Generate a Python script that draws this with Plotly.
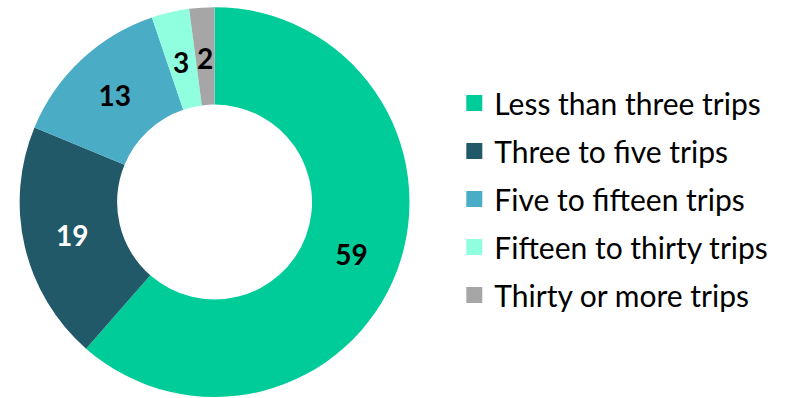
import math
import plotly.graph_objects as go

labels = ["Less than three trips", "Three to five trips", "Five to fifteen trips",
          "Fifteen to thirty trips", "Thirty or more trips"]
values = [59, 19, 13, 3, 2]
colors = ["#00CC99", "#215968", "#4BACC6", "#8FFFE0", "#A6A6A6"]
text_colors = ["black", "white", "black", "black", "black"]

FONT = "Lato"
W, H = 786, 398
DOM_X = [0.0235, 0.5225]
DOM_Y = [0.0025, 0.982]
HOLE = 0.5
SMALL = 5  # slices below this share are labelled by annotation

fig = go.Figure()
fig.add_trace(go.Pie(
    labels=labels, values=values, sort=False, direction="clockwise", rotation=0,
    hole=HOLE, marker=dict(colors=colors, line=dict(width=0)),
    texttemplate=["%{value}" if v >= SMALL else "" for v in values],
    textposition="inside", insidetextorientation="horizontal",
    insidetextfont=dict(family=FONT, size=28, color=text_colors, weight="bold"),
    showlegend=False, domain=dict(x=DOM_X, y=DOM_Y),
    hoverinfo="label+value",
))

# labels for thin slices, placed at the middle of the ring from the data
total = sum(values)
cx = (DOM_X[0] + DOM_X[1]) / 2
cy = (DOM_Y[0] + DOM_Y[1]) / 2
r_out = min((DOM_X[1] - DOM_X[0]) * W, (DOM_Y[1] - DOM_Y[0]) * H) / 2
r_mid = r_out * (1 + HOLE) / 2
cum = 0
for v, tc in zip(values, text_colors):
    mid = (cum + v / 2) / total * 2 * math.pi
    cum += v
    if v >= SMALL:
        continue
    fig.add_annotation(
        x=cx + r_mid * math.sin(mid) / W, y=cy + r_mid * math.cos(mid) / H,
        xref="paper", yref="paper", xanchor="center", yanchor="middle",
        text=f"<b>{v}</b>", showarrow=False,
        font=dict(family=FONT, size=28, color=tc), yshift=-2,
    )

for lab, col in zip(labels, colors):
    fig.add_trace(go.Scatter(
        x=[None], y=[None], mode="markers", name=lab, legendgroup=lab,
        marker=dict(symbol="square", size=18, color=col), showlegend=True,
    ))

fig.update_layout(
    width=W, height=H, margin=dict(l=0, r=0, t=0, b=0),
    paper_bgcolor="white", plot_bgcolor="white",
    xaxis=dict(visible=False), yaxis=dict(visible=False),
    font=dict(family=FONT, color="black"),
    legend=dict(x=0.578, xanchor="left", y=0.5, yanchor="middle",
                font=dict(family=FONT, size=30, color="black"),
                traceorder="grouped", tracegroupgap=6, itemclick=False),
)
fig.write_html("out.html", config={"displayModeBar": False},
               post_script="document.body.style.margin='0';")
